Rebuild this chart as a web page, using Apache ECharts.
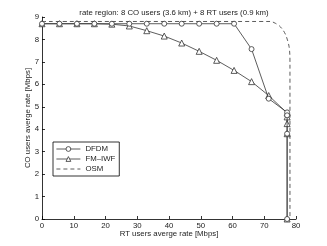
<!DOCTYPE html>
<html><head><meta charset="utf-8">
<script src="https://cdn.jsdelivr.net/npm/echarts@6/dist/echarts.min.js"></script>
<style>html,body{margin:0;padding:0;background:#fff}#c{width:327px;height:246px}</style>
</head><body><div id="c"></div>
<script>
var titleText = 'rate region: 8 CO users (3.6 km) + 8 RT users (0.9 km)';
var xTicks = [0,10,20,30,40,50,60,70,80];
var yTicks = [0,1,2,3,4,5,6,7,8,9];
var dfdmX = [0,5.5,11,16.5,22,27.5,33,38.5,44,49.5,55,60.5,66,71.4,77.2,77.2,77.2,77.2];
var dfdmY = [8.7,8.7,8.7,8.7,8.7,8.7,8.7,8.7,8.7,8.7,8.7,8.7,7.57,5.36,4.75,4.62,3.8,0];
var fmX = [0,5.5,11,16.5,22,27.5,33,38.5,44,49.5,55,60.5,66,71.4,77.2,77.2,77.2,77.2,77.2];
var fmY = [8.7,8.7,8.7,8.7,8.68,8.6,8.39,8.15,7.84,7.47,7.07,6.62,6.12,5.5,4.72,4.55,4.25,3.8,0];
var osmX = [0,72,73.5,74.8,75.9,76.7,77.3,77.8,78.05,78.1,78.1];
var osmY = [8.8,8.8,8.72,8.6,8.42,8.22,7.98,7.7,7.35,6.9,0];

function pairs(xs, ys){ return xs.map(function(x,i){return [x, ys[i]];}); }
var chart = echarts.init(document.getElementById('c'), null, {renderer:'canvas'});
var font = 'Liberation Sans, Arial, sans-serif';
var lw = 0.8;
var fs = 7.8;
chart.setOption({
  animation:false,
  backgroundColor:'#fff',
  title:{text:titleText, left:169, top:4, textAlign:'center',
    textStyle:{fontSize:fs, fontWeight:'normal', color:'#222', fontFamily:font}},
  grid:{left:42, right:31, top:17, bottom:27},
  xAxis:{type:'value', min:0, max:80, interval:10,
    name:'RT users averge rate [Mbps]', nameLocation:'middle', nameGap:11, nameMoveOverlap:false,
    nameTextStyle:{fontSize:fs, color:'#222', fontFamily:font},
    axisLine:{lineStyle:{color:'#000', width:lw}},
    axisTick:{inside:true, length:3, lineStyle:{color:'#000', width:lw}},
    axisLabel:{fontSize:fs, color:'#222', margin:3, fontFamily:font},
    splitLine:{show:false}},
  yAxis:{type:'value', min:0, max:9, interval:1,
    name:'CO users averge rate [Mbps]', nameLocation:'middle', nameGap:10, nameMoveOverlap:false,
    nameTextStyle:{fontSize:fs, color:'#222', fontFamily:font},
    axisLine:{show:true, lineStyle:{color:'#000', width:lw}},
    axisTick:{show:true, inside:true, length:3, lineStyle:{color:'#000', width:lw}},
    axisLabel:{fontSize:fs, color:'#222', margin:3, fontFamily:font},
    splitLine:{show:false}},
  legend:{left:53, top:142, orient:'vertical', itemWidth:24, itemHeight:6, itemGap:2,
    padding:[3,4,3,3], borderColor:'#000', borderWidth:0.8, backgroundColor:'#fff',
    textStyle:{fontSize:fs, color:'#222', fontFamily:font},
    itemStyle:{color:'#fff', borderColor:'#333', borderWidth:lw},
    lineStyle:{width:lw, color:'#333'},
    data:['DFDM','FM\u2013IWF',{name:'OSM', itemStyle:{opacity:0}}]},
  series:[
    {name:'DFDM', type:'line', data:pairs(dfdmX, dfdmY), symbol:'circle', symbolSize:5,
      itemStyle:{color:'#fff', borderColor:'#333', borderWidth:lw},
      lineStyle:{color:'#333', width:lw}, z:3},
    {name:'FM\u2013IWF', type:'line', data:pairs(fmX, fmY), symbol:'triangle', symbolSize:6,
      itemStyle:{color:'#fff', borderColor:'#333', borderWidth:lw},
      lineStyle:{color:'#333', width:lw}, z:2},
    {name:'OSM', type:'line', data:pairs(osmX, osmY), symbol:'none', smooth:0.3,
      itemStyle:{color:'#333'},
      lineStyle:{color:'#333', width:lw, type:[4,3]}, z:1}
  ]
});
</script></body></html>
